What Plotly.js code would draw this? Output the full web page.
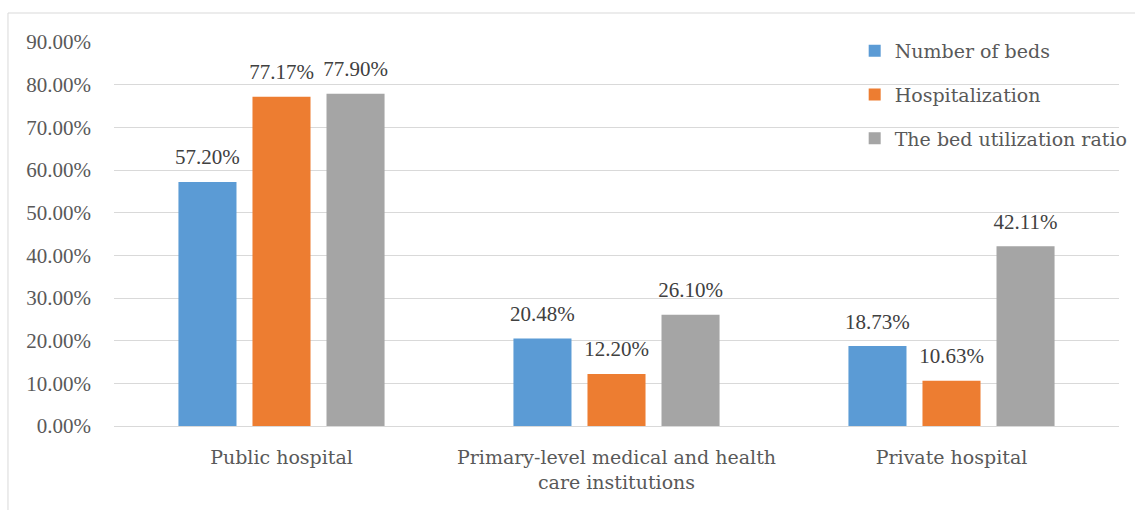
<!DOCTYPE html>
<html>
<head>
<meta charset="utf-8">
<script src="https://cdn.plot.ly/plotly-3.0.1.min.js"></script>
<style>html,body{margin:0;padding:0;background:#fff;}#chart{width:1135px;height:510px;}</style>
</head>
<body>
<div id="chart"></div>
<script>
var categories = ["Public hospital", "Primary-level medical and health<br>care institutions", "Private hospital"];
var seriesNames = ["Number of beds", "Hospitalization", "The bed utilization ratio"];
var beds = [57.20, 20.48, 18.73];
var hospitalization = [77.17, 12.20, 10.63];
var utilization = [77.90, 26.10, 42.11];
var colors = ["#5b9bd5", "#ed7d31", "#a5a5a5"];
var yTickVals = [0, 10, 20, 30, 40, 50, 60, 70, 80, 90];

var numFont = {family: "Liberation Serif, serif", size: 21, color: "#404040"};
var textFont = {family: "DejaVu Serif, serif", size: 19, color: "#595959"};
var GAP = 0.337;

var values = [beds, hospitalization, utilization];
var traces = [];
values.forEach(function (v, i) {
  traces.push({
    type: "bar",
    name: seriesNames[i],
    x: categories,
    y: v,
    marker: {color: colors[i]},
    offsetgroup: "g" + i,
    legendgroup: "g" + i,
    hoverinfo: "x+y"
  });
});
values.forEach(function (v, i) {
  traces.push({
    type: "scatter",
    mode: "markers+text",
    x: categories,
    y: v,
    text: v.map(function (d) { return d.toFixed(2) + "%"; }),
    textposition: "top center",
    textfont: numFont,
    marker: {size: 18, color: "rgba(0,0,0,0)"},
    offsetgroup: "g" + i,
    showlegend: false,
    cliponaxis: false,
    hoverinfo: "skip"
  });
});

var layout = {
  width: 1135,
  height: 510,
  margin: {l: 114, r: 16, t: 42, b: 84, autoexpand: false},
  paper_bgcolor: "#ffffff",
  plot_bgcolor: "#ffffff",
  barmode: "group",
  bargap: GAP,
  bargroupgap: 0.216,
  scattermode: "group",
  scattergap: GAP,
  showlegend: true,
  legend: {
    x: 0.737, xanchor: "left",
    y: 1.026, yanchor: "top",
    bgcolor: "rgba(0,0,0,0)",
    font: textFont,
    tracegroupgap: 16,
    traceorder: "grouped"
  },
  xaxis: {
    type: "category",
    showgrid: false,
    showline: true,
    linecolor: "#d9d9d9",
    linewidth: 1,
    ticks: "",
    tickfont: textFont,
    ticklabelstandoff: 14,
    zeroline: false
  },
  yaxis: {
    range: [0, 90],
    tickvals: yTickVals,
    ticktext: yTickVals.map(function (t) { return t.toFixed(2) + "%"; }),
    showgrid: true,
    gridcolor: "#d9d9d9",
    gridwidth: 1,
    zeroline: false,
    showline: false,
    ticks: "",
    tickfont: {family: "Liberation Serif, serif", size: 21, color: "#595959"},
    ticklabelstandoff: 22
  },
  shapes: [{
    type: "rect", xref: "paper", yref: "paper",
    x0: -0.1055, x1: 1.03, y0: -0.4, y1: 1.0755,
    line: {color: "#d9d9d9", width: 1},
    fillcolor: "rgba(0,0,0,0)",
    layer: "below"
  }]
};

Plotly.newPlot("chart", traces, layout, {displayModeBar: false, staticPlot: true});
</script>
</body>
</html>
